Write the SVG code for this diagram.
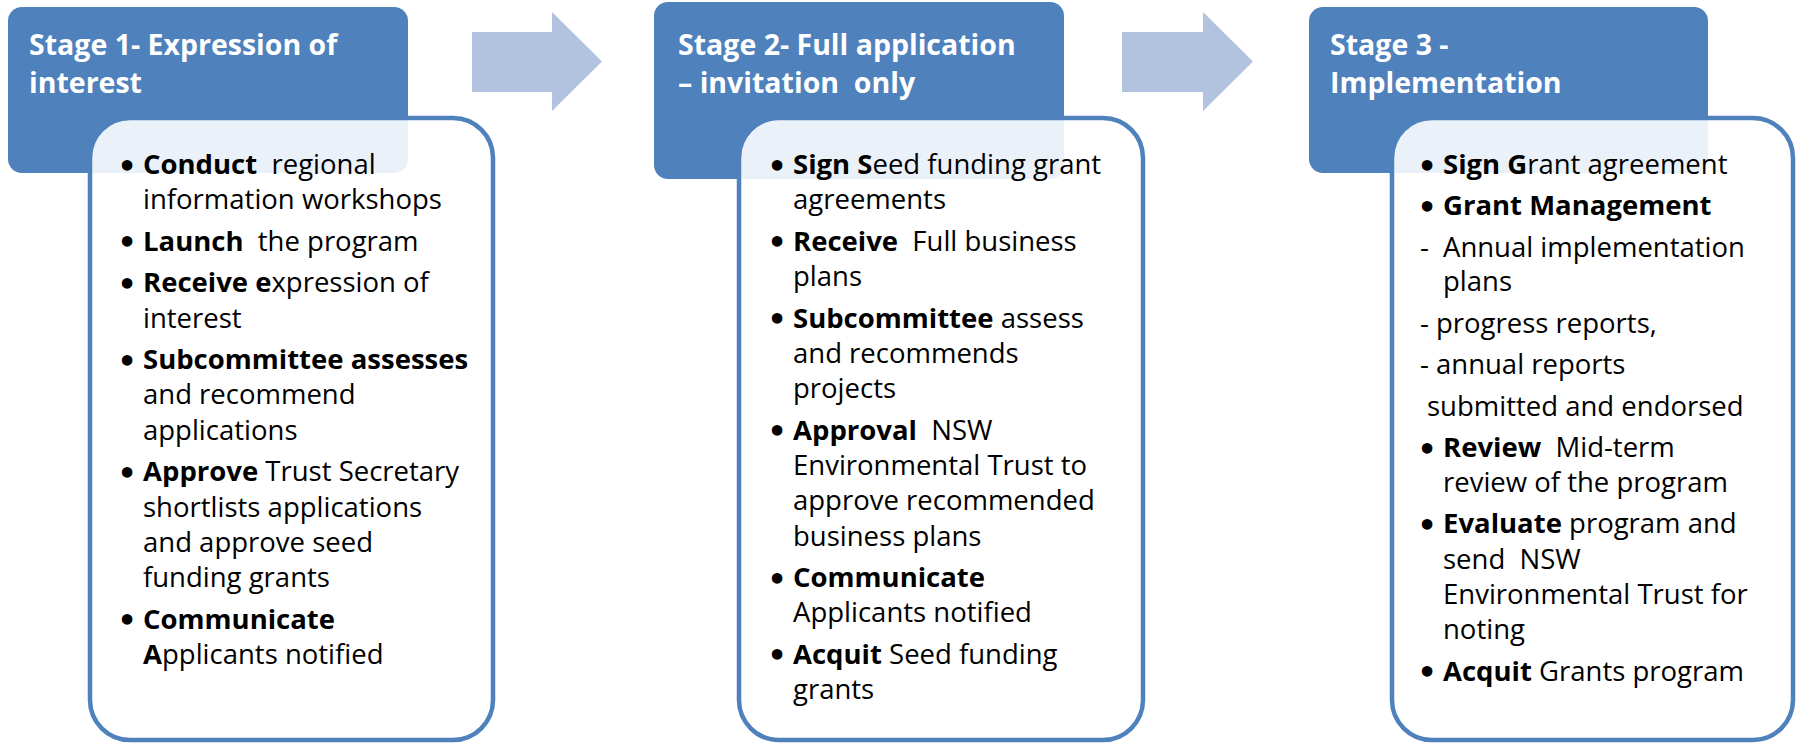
<svg xmlns="http://www.w3.org/2000/svg" width="1801" height="744" viewBox="0 0 1801 744">
<style>
.hdr{fill:#4F81BD}
.body{fill:#fff;fill-opacity:0.89;stroke:#4F81BD;stroke-width:4.5}
.ttl{font-family:"Open Sans","Liberation Sans",sans-serif;font-size:28.5px;font-weight:bold;fill:#fff;white-space:pre}
.t{font-family:"Open Sans","Liberation Sans",sans-serif;font-size:27.5px;fill:#000;white-space:pre}
.b{font-weight:bold}
.bul{text-anchor:middle;font-family:"DejaVu Sans",sans-serif;font-size:30px;font-weight:bold;fill:#000}
.arr{fill:#B2C3DF}
</style>
<rect width="1801" height="744" fill="#fff"/>
<g id="connectors">
<polygon class="arr" points="472,32 552,32 552,12 602,61.5 552,111 552,92 472,92"/>
<polygon class="arr" points="1122,32 1203,32 1203,12 1253,61.5 1203,111 1203,92 1122,92"/>
</g>
<g id="stage1">
<rect class="hdr" x="8" y="7" width="400" height="166" rx="14"/>
<text class="ttl" x="29" y="55">Stage 1- Expression of</text>
<text class="ttl" x="29" y="92.5">interest</text>
<rect class="body" x="90" y="118" width="403" height="622" rx="40"/>
<text class="bul" x="127" y="176.5">•</text>
<text class="t" x="143" y="174" xml:space="preserve"><tspan class="b">Conduct</tspan>  regional</text>
<text class="t" x="143" y="209.3">information workshops</text>
<text class="bul" x="127" y="253.3">•</text>
<text class="t" x="143" y="250.8" xml:space="preserve"><tspan class="b">Launch</tspan>  the program</text>
<text class="bul" x="127" y="294.8">•</text>
<text class="t" x="143" y="292.3"><tspan class="b">Receive e</tspan>xpression of</text>
<text class="t" x="143" y="327.6">interest</text>
<text class="bul" x="127" y="371.6">•</text>
<text class="t b" x="143" y="369.1">Subcommittee assesses</text>
<text class="t" x="143" y="404.4">and recommend</text>
<text class="t" x="143" y="439.7">applications</text>
<text class="bul" x="127" y="483.7">•</text>
<text class="t" x="143" y="481.2" xml:space="preserve"><tspan class="b">Approve</tspan> Trust Secretary</text>
<text class="t" x="143" y="516.5">shortlists applications</text>
<text class="t" x="143" y="551.8">and approve seed</text>
<text class="t" x="143" y="587.1">funding grants</text>
<text class="bul" x="127" y="631.1">•</text>
<text class="t b" x="143" y="628.6">Communicate</text>
<text class="t" x="143" y="663.9"><tspan class="b">A</tspan>pplicants notified</text>
</g>
<g id="stage2">
<rect class="hdr" x="654" y="2" width="410" height="177" rx="14"/>
<text class="ttl" x="678" y="55">Stage 2- Full application</text>
<text class="ttl" x="678" y="92.5" xml:space="preserve">– invitation  only</text>
<rect class="body" x="739" y="118" width="404" height="622" rx="40"/>
<text class="bul" x="777" y="176.5">•</text>
<text class="t" x="793" y="174"><tspan class="b">Sign S</tspan>eed funding grant</text>
<text class="t" x="793" y="209.3">agreements</text>
<text class="bul" x="777" y="253.3">•</text>
<text class="t" x="793" y="250.8" xml:space="preserve"><tspan class="b">Receive</tspan>  Full business</text>
<text class="t" x="793" y="286.1">plans</text>
<text class="bul" x="777" y="330.1">•</text>
<text class="t" x="793" y="327.6" xml:space="preserve"><tspan class="b">Subcommittee</tspan> assess</text>
<text class="t" x="793" y="362.9">and recommends</text>
<text class="t" x="793" y="398.2">projects</text>
<text class="bul" x="777" y="442.2">•</text>
<text class="t" x="793" y="439.7" xml:space="preserve"><tspan class="b">Approval</tspan>  NSW</text>
<text class="t" x="793" y="475">Environmental Trust to</text>
<text class="t" x="793" y="510.3">approve recommended</text>
<text class="t" x="793" y="545.6">business plans</text>
<text class="bul" x="777" y="589.6">•</text>
<text class="t b" x="793" y="587.1">Communicate</text>
<text class="t" x="793" y="622.4">Applicants notified</text>
<text class="bul" x="777" y="666.4">•</text>
<text class="t" x="793" y="663.9" xml:space="preserve"><tspan class="b">Acquit</tspan> Seed funding</text>
<text class="t" x="793" y="699.2">grants</text>
</g>
<g id="stage3">
<rect class="hdr" x="1309" y="7" width="399" height="166" rx="14"/>
<text class="ttl" x="1330" y="55">Stage 3 -</text>
<text class="ttl" x="1330" y="92.5">Implementation</text>
<rect class="body" x="1392" y="118" width="401" height="622" rx="40"/>
<text class="bul" x="1427" y="176.5">•</text>
<text class="t" x="1443" y="174"><tspan class="b">Sign G</tspan>rant agreement</text>
<text class="bul" x="1427" y="217.9">•</text>
<text class="t b" x="1443" y="215.4">Grant Management</text>
<text class="t" x="1420" y="256.8">-</text>
<text class="t" x="1443" y="256.8">Annual implementation</text>
<text class="t" x="1443" y="291.3">plans</text>
<text class="t" x="1420" y="333">- progress reports,</text>
<text class="t" x="1420" y="374.4">- annual reports</text>
<text class="t" x="1427" y="415.8">submitted and endorsed</text>
<text class="bul" x="1427" y="459.7">•</text>
<text class="t" x="1443" y="457.2" xml:space="preserve"><tspan class="b">Review</tspan>  Mid-term</text>
<text class="t" x="1443" y="492">review of the program</text>
<text class="bul" x="1427" y="535.9">•</text>
<text class="t" x="1443" y="533.4" xml:space="preserve"><tspan class="b">Evaluate</tspan> program and</text>
<text class="t" x="1443" y="568.5" xml:space="preserve">send  NSW</text>
<text class="t" x="1443" y="603.5">Environmental Trust for</text>
<text class="t" x="1443" y="638.5">noting</text>
<text class="bul" x="1427" y="683">•</text>
<text class="t" x="1443" y="680.5" xml:space="preserve"><tspan class="b">Acquit</tspan> Grants program</text>
</g>
</svg>
